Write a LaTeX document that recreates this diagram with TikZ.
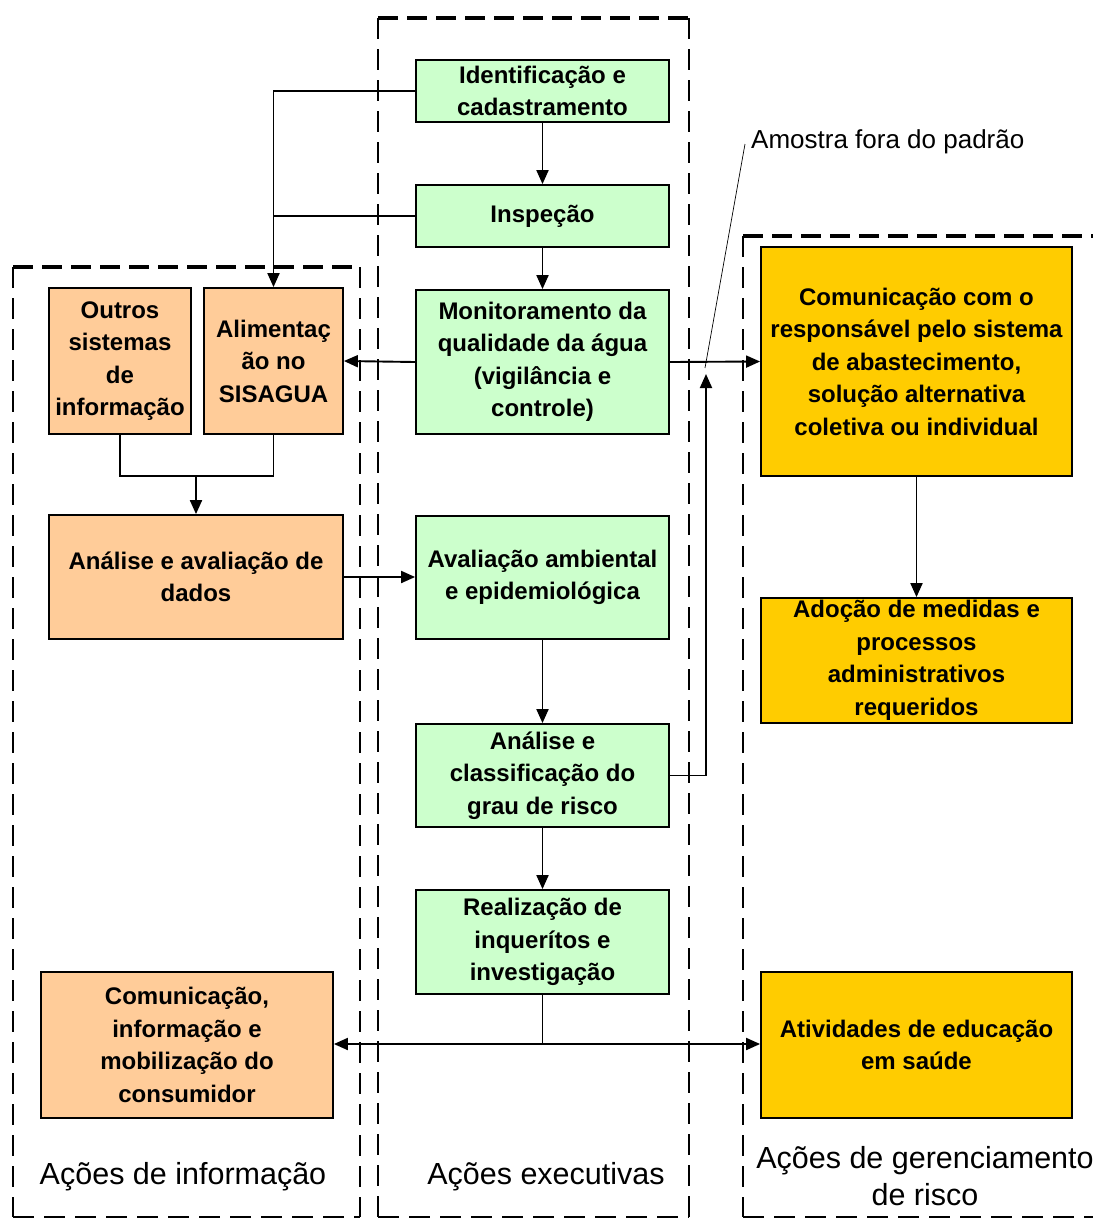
\documentclass[tikz,border=0pt]{standalone}
\usepackage{fontspec}
\setmainfont{Liberation Sans}
\usetikzlibrary{arrows.meta}
\definecolor{boxgreen}{HTML}{CCFFCC}
\definecolor{boxorange}{HTML}{FFCC99}
\definecolor{boxyellow}{HTML}{FFCC00}
\tikzset{
  stagebox/.style={draw=black, line width=1.8pt, inner sep=0pt, align=center,
    font=\bfseries\fontsize{24}{32.5}\selectfont},
  exec/.style={stagebox, fill=boxgreen, minimum width=253pt},
  info/.style={stagebox, fill=boxorange},
  risk/.style={stagebox, fill=boxyellow, minimum width=311pt},
  edgetop/.style={line width=4.5pt, dash pattern=on 20pt off 9pt},
  edgeside/.style={line width=2.6pt, dash pattern=on 21pt off 10pt},
  flow/.style={line width=1.9pt, -{Triangle[length=14pt,width=12pt]}},
  link/.style={line width=1.9pt},
  groupname/.style={font=\fontsize{30.5}{37}\selectfont, align=center},
}
\begin{document}
\begin{tikzpicture}[x=1pt, y=-1pt]
\useasboundingbox (0,0) rectangle (1093,1219);

% group frames
\draw[edgetop] (13,267) -- (360,267);
\draw[edgeside, line width=2pt] (13,267) -- (13,1217);
\draw[edgeside] (360,267) -- (360,1217);
\draw[edgeside] (13,1217) -- (360,1217);

\draw[edgetop] (378,18) -- (689,18);
\draw[edgeside] (378,18) -- (378,1217);
\draw[edgeside] (689,18) -- (689,1217);
\draw[edgeside] (378,1217) -- (689,1217);

\draw[edgetop] (743,236) -- (1093,236);
\draw[edgeside] (743,236) -- (743,1217);
\draw[edgeside] (743,1217) -- (1093,1217);

% executive actions
\node[exec, minimum height=62pt]  (ident)   at (542.5,91)  {Identificação e\\cadastramento};
\node[exec, minimum height=62pt]  (insp)    at (542.5,216) {Inspeção};
\node[exec, minimum height=144pt] (monit)   at (542.5,362) {Monitoramento da\\qualidade da água\\(vigilância e\\controle)};
\node[exec, minimum height=123pt] (aval)    at (542.5,577.5) {Avaliação ambiental\\e epidemiológica};
\node[exec, minimum height=103pt] (classif) at (542.5,775.5) {Análise e\\classificação do\\grau de risco};
\node[exec, minimum height=104pt] (realiz)  at (542.5,942) {Realização de\\inquerítos e\\investigação};

% information actions
\node[info, minimum width=142pt, minimum height=146pt] (outros)  at (120,361)   {Outros\\sistemas\\de\\informação};
\node[info, minimum width=139pt, minimum height=146pt] (alim)    at (273.5,361) {Alimentaç\\ão no\\SISAGUA};
\node[info, minimum width=294pt, minimum height=124pt] (analise) at (196,577)   {Análise e avaliação de\\dados};
\node[info, minimum width=292pt, minimum height=146pt] (cominfo) at (187,1045)  {Comunicação,\\informação e\\mobilização do\\consumidor};

% risk management actions
\node[risk, minimum height=229pt] (comresp) at (916.5,361.5) {Comunicação com o\\responsável pelo sistema\\de abastecimento,\\solução alternativa\\coletiva ou individual};
\node[risk, minimum height=125pt] (adocao)  at (916.5,660.5) {Adoção de medidas e\\processos\\administrativos\\requeridos};
\node[risk, minimum height=146pt] (ativ)    at (916.5,1045)  {Atividades de educação\\em saúde};

% group names
\node[groupname] (gInfo) at (183,1177) {Ações de informação};
\node[groupname] (gExec) at (546,1177) {Ações executivas};
\node[groupname] (gRisk) at (925,1176) {Ações de gerenciamento\\de risco};

% annotation
\node[font=\fontsize{26}{30}\selectfont, anchor=west, inner sep=0pt] (amostra) at (751,142) {Amostra fora do padrão};

% connectors
\draw[flow] (ident.west) -| (alim.north);
\draw[link] (insp.west) -- (insp.west -| alim.north);
\draw[flow] (ident.south) -- (insp.north);
\draw[flow] (insp.south) -- (monit.north);
\draw[flow] (monit.west) -- (alim.east);
\draw[flow] (monit.east) -- (comresp.west);

\coordinate (merge) at (196,476);
\draw[link] (outros.south) |- (merge) -| (alim.south);
\draw[flow] (merge) -- (analise.north);
\draw[flow] (analise.east) -- (aval.west |- analise.east);

\draw[flow] (aval.south) -- (classif.north);
\draw[flow] (classif.south) -- (realiz.north);

\coordinate (riskTip) at (706,374);
\draw[flow] (classif.east) -| (riskTip);
\coordinate (noteFoot) at (705,368);
\draw[line width=0.7pt] (amostra.west) ++(-6,2) -- (noteFoot);

\draw[flow] (comresp.south) -- (adocao.north);

\coordinate (fork) at (542.5,1044);
\draw[link] (realiz.south) -- (fork);
\draw[flow] (fork) -- (cominfo.east |- fork);
\draw[flow] (fork) -- (ativ.west |- fork);
\end{tikzpicture}
\end{document}
